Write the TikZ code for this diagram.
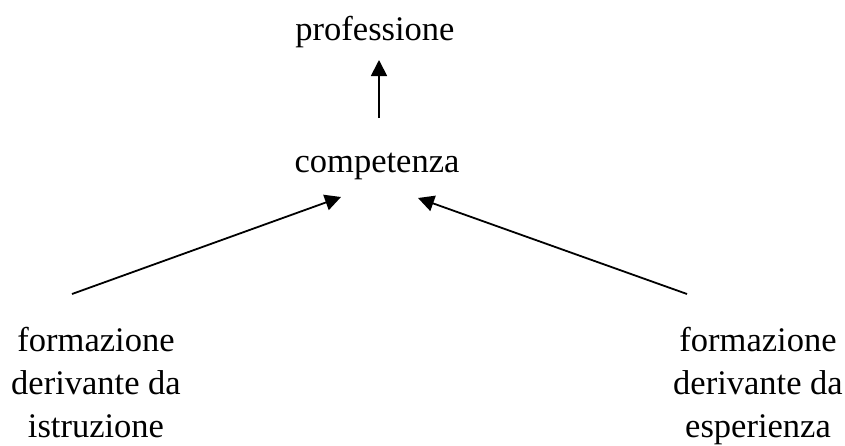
\documentclass[tikz,border=0pt]{standalone}
\usepackage{fontspec}
\setmainfont{Liberation Serif}
\usetikzlibrary{arrows.meta}
\begin{document}
\begin{tikzpicture}[x=1pt,y=-1pt,
  lbl/.style={font=\fontsize{34.5}{43}\selectfont, inner sep=0pt, align=center, anchor=base},
  conn/.style={line width=1.8pt, -{Triangle[length=16pt,width=16pt]}}]
\useasboundingbox (0,0) rectangle (845,445);
\node[lbl] (prof) at (375,40) {professione};
\node[lbl] (comp) at (377,172) {competenza};
\node[lbl] (istr) at (96,437) {formazione\\derivante da\\istruzione};
\node[lbl] (espe) at (758,437) {formazione\\derivante da\\esperienza};
\coordinate (a1) at (379,118);
\coordinate (a2) at (379,60);
\coordinate (l1) at (72,294);
\coordinate (l2) at (341,197);
\coordinate (r1) at (687,294);
\coordinate (r2) at (418,198);
\draw[conn] (a1) -- (a2);
\draw[conn] (l1) -- (l2);
\draw[conn] (r1) -- (r2);
\end{tikzpicture}
\end{document}
